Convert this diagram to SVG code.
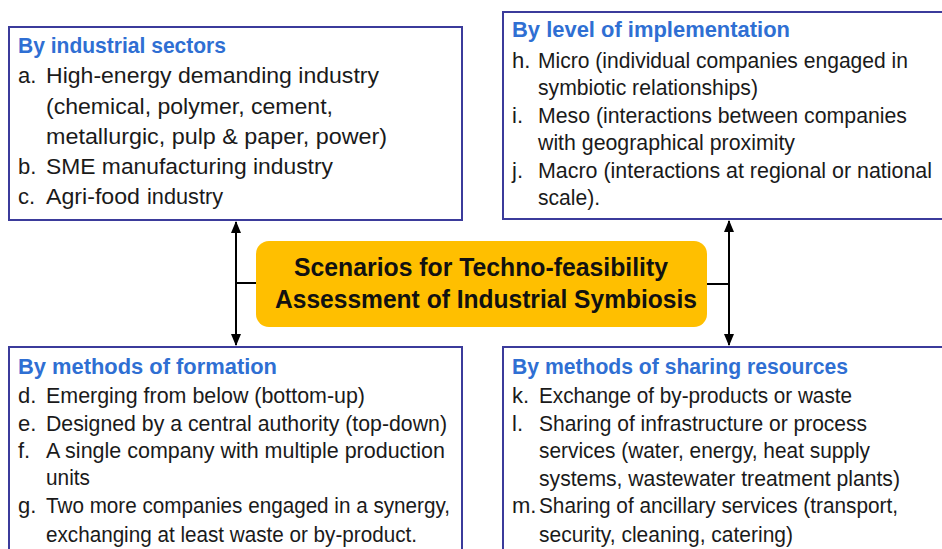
<svg xmlns="http://www.w3.org/2000/svg" width="942" height="549" viewBox="0 0 942 549">
<defs>
<style>
.box{fill:#ffffff;stroke:#3b3b9b;stroke-width:2}
.title{font-family:"Liberation Sans",Arial,sans-serif;font-weight:bold;font-size:22px;fill:#2f6fd3}
.body{font-family:"Liberation Sans",Arial,sans-serif;font-size:22px;fill:#1a1a1a}
.center{font-family:"Liberation Sans",Arial,sans-serif;font-weight:bold;font-size:25px;fill:#111111}
.conn{stroke:#000000;stroke-width:2;fill:none}
</style>
<marker id="arr" viewBox="0 0 12 10" refX="11" refY="5" markerWidth="12" markerHeight="10" markerUnits="userSpaceOnUse" orient="auto-start-reverse">
<path d="M0,0 L12,5 L0,10 Z" fill="#000000"/>
</marker>
</defs>
<rect width="942" height="549" fill="#ffffff"/>

<g id="connectors">
<line class="conn" x1="236" y1="222" x2="236" y2="345" marker-start="url(#arr)" marker-end="url(#arr)"/>
<line class="conn" x1="236" y1="283" x2="256" y2="283"/>
<line class="conn" x1="729" y1="221" x2="729" y2="345" marker-start="url(#arr)" marker-end="url(#arr)"/>
<line class="conn" x1="707" y1="284" x2="729" y2="284"/>
</g>

<g id="center">
<rect x="256" y="241" width="451" height="86" rx="13" ry="13" fill="#ffbf00"/>
<text class="center" x="481" y="276" text-anchor="middle" textLength="374" lengthAdjust="spacingAndGlyphs">Scenarios for Techno-feasibility</text>
<text class="center" x="486" y="308" text-anchor="middle" textLength="422" lengthAdjust="spacingAndGlyphs">Assessment of Industrial Symbiosis</text>
</g>

<g id="sectors">
<rect class="box" x="9" y="27" width="453" height="193"/>
<text class="title" x="18" y="53" textLength="208" lengthAdjust="spacingAndGlyphs">By industrial sectors</text>
<text class="body" x="18" y="83">a.</text>
<text class="body" x="46" y="83" textLength="333" lengthAdjust="spacingAndGlyphs">High-energy demanding industry</text>
<text class="body" x="46" y="114" textLength="287" lengthAdjust="spacingAndGlyphs">(chemical, polymer, cement,</text>
<text class="body" x="46" y="144" textLength="341" lengthAdjust="spacingAndGlyphs">metallurgic, pulp &amp; paper, power)</text>
<text class="body" x="18" y="174">b.</text>
<text class="body" x="46" y="174" textLength="287" lengthAdjust="spacingAndGlyphs">SME manufacturing industry</text>
<text class="body" x="18" y="204">c.</text>
<text class="body" x="46" y="204" textLength="94" lengthAdjust="spacingAndGlyphs">Agri-food</text>
<text class="body" x="147" y="204" font-size="19" textLength="76" lengthAdjust="spacingAndGlyphs">industry</text>
</g>

<g id="implementation">
<rect class="box" x="503" y="12" width="452" height="207"/>
<text class="title" x="512" y="37" textLength="278" lengthAdjust="spacingAndGlyphs">By level of implementation</text>
<text class="body" x="512" y="68">h.</text>
<text class="body" x="538" y="68" textLength="370" lengthAdjust="spacingAndGlyphs">Micro (individual companies engaged in</text>
<text class="body" x="538" y="95" textLength="220" lengthAdjust="spacingAndGlyphs">symbiotic relationships)</text>
<text class="body" x="512" y="123">i.</text>
<text class="body" x="538" y="123" textLength="369" lengthAdjust="spacingAndGlyphs">Meso (interactions between companies</text>
<text class="body" x="538" y="150" textLength="257" lengthAdjust="spacingAndGlyphs">with geographical proximity</text>
<text class="body" x="512" y="178">j.</text>
<text class="body" x="538" y="178" textLength="394" lengthAdjust="spacingAndGlyphs">Macro (interactions at regional or national</text>
<text class="body" x="538" y="205" textLength="62" lengthAdjust="spacingAndGlyphs">scale).</text>
</g>

<g id="formation">
<rect class="box" x="9" y="347" width="453" height="220"/>
<text class="title" x="18" y="374" textLength="259" lengthAdjust="spacingAndGlyphs">By methods of formation</text>
<text class="body" x="18" y="403">d.</text>
<text class="body" x="46" y="403" textLength="319" lengthAdjust="spacingAndGlyphs">Emerging from below (bottom-up)</text>
<text class="body" x="18" y="431">e.</text>
<text class="body" x="46" y="431" textLength="401" lengthAdjust="spacingAndGlyphs">Designed by a central authority (top-down)</text>
<text class="body" x="18" y="458">f.</text>
<text class="body" x="46" y="458" textLength="399" lengthAdjust="spacingAndGlyphs">A single company with multiple production</text>
<text class="body" x="46" y="485" textLength="44" lengthAdjust="spacingAndGlyphs">units</text>
<text class="body" x="18" y="513">g.</text>
<text class="body" x="46" y="513" textLength="404" lengthAdjust="spacingAndGlyphs">Two more companies engaged in a synergy,</text>
<text class="body" x="46" y="542" textLength="371" lengthAdjust="spacingAndGlyphs">exchanging at least waste or by-product.</text>
</g>

<g id="sharing">
<rect class="box" x="503" y="347" width="452" height="220"/>
<text class="title" x="512" y="374" textLength="336" lengthAdjust="spacingAndGlyphs">By methods of sharing resources</text>
<text class="body" x="512" y="403">k.</text>
<text class="body" x="539" y="403" textLength="313" lengthAdjust="spacingAndGlyphs">Exchange of by-products or waste</text>
<text class="body" x="512" y="431">l.</text>
<text class="body" x="539" y="431" textLength="328" lengthAdjust="spacingAndGlyphs">Sharing of infrastructure or process</text>
<text class="body" x="539" y="458" textLength="331" lengthAdjust="spacingAndGlyphs">services (water, energy, heat supply</text>
<text class="body" x="539" y="486" textLength="361" lengthAdjust="spacingAndGlyphs">systems, wastewater treatment plants)</text>
<text class="body" x="512" y="513">m.</text>
<text class="body" x="539" y="513" textLength="359" lengthAdjust="spacingAndGlyphs">Sharing of ancillary services (transport,</text>
<text class="body" x="539" y="542" textLength="254" lengthAdjust="spacingAndGlyphs">security, cleaning, catering)</text>
</g>
</svg>
